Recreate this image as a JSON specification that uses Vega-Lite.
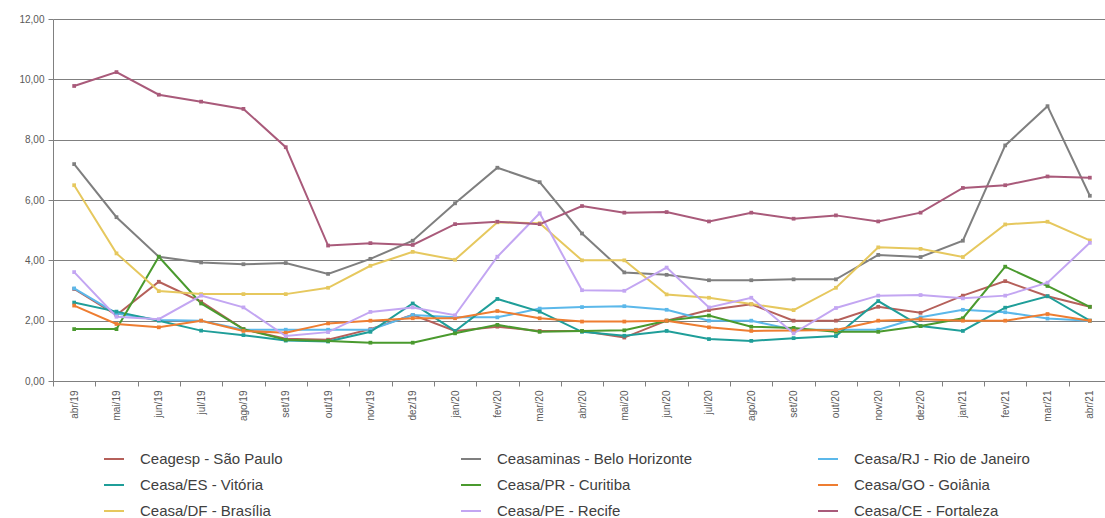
{
  "$schema": "https://vega.github.io/schema/vega-lite/v6.json",
  "width": 1058,
  "height": 362,
  "autosize": "none",
  "padding": {"left": 53, "top": 19, "right": 0, "bottom": 137},
  "background": "white",
  "data": {"values": [
    {"m":"abr/19","s":"Ceagesp - São Paulo","v":3.05},{"m":"mai/19","s":"Ceagesp - São Paulo","v":2.19},{"m":"jun/19","s":"Ceagesp - São Paulo","v":3.29},{"m":"jul/19","s":"Ceagesp - São Paulo","v":2.63},{"m":"ago/19","s":"Ceagesp - São Paulo","v":1.72},{"m":"set/19","s":"Ceagesp - São Paulo","v":1.40},{"m":"out/19","s":"Ceagesp - São Paulo","v":1.37},{"m":"nov/19","s":"Ceagesp - São Paulo","v":1.72},{"m":"dez/19","s":"Ceagesp - São Paulo","v":2.19},{"m":"jan/20","s":"Ceagesp - São Paulo","v":1.66},{"m":"fev/20","s":"Ceagesp - São Paulo","v":1.80},{"m":"mar/20","s":"Ceagesp - São Paulo","v":1.66},{"m":"abr/20","s":"Ceagesp - São Paulo","v":1.66},{"m":"mai/20","s":"Ceagesp - São Paulo","v":1.44},{"m":"jun/20","s":"Ceagesp - São Paulo","v":2.00},{"m":"jul/20","s":"Ceagesp - São Paulo","v":2.35},{"m":"ago/20","s":"Ceagesp - São Paulo","v":2.54},{"m":"set/20","s":"Ceagesp - São Paulo","v":2.00},{"m":"out/20","s":"Ceagesp - São Paulo","v":2.00},{"m":"nov/20","s":"Ceagesp - São Paulo","v":2.46},{"m":"dez/20","s":"Ceagesp - São Paulo","v":2.26},{"m":"jan/21","s":"Ceagesp - São Paulo","v":2.83},{"m":"fev/21","s":"Ceagesp - São Paulo","v":3.31},{"m":"mar/21","s":"Ceagesp - São Paulo","v":2.81},{"m":"abr/21","s":"Ceagesp - São Paulo","v":2.46},

    {"m":"abr/19","s":"Ceasaminas - Belo Horizonte","v":7.19},{"m":"mai/19","s":"Ceasaminas - Belo Horizonte","v":5.43},{"m":"jun/19","s":"Ceasaminas - Belo Horizonte","v":4.12},{"m":"jul/19","s":"Ceasaminas - Belo Horizonte","v":3.93},{"m":"ago/19","s":"Ceasaminas - Belo Horizonte","v":3.87},{"m":"set/19","s":"Ceasaminas - Belo Horizonte","v":3.91},{"m":"out/19","s":"Ceasaminas - Belo Horizonte","v":3.55},{"m":"nov/19","s":"Ceasaminas - Belo Horizonte","v":4.05},{"m":"dez/19","s":"Ceasaminas - Belo Horizonte","v":4.65},{"m":"jan/20","s":"Ceasaminas - Belo Horizonte","v":5.89},{"m":"fev/20","s":"Ceasaminas - Belo Horizonte","v":7.07},{"m":"mar/20","s":"Ceasaminas - Belo Horizonte","v":6.59},{"m":"abr/20","s":"Ceasaminas - Belo Horizonte","v":4.89},{"m":"mai/20","s":"Ceasaminas - Belo Horizonte","v":3.60},{"m":"jun/20","s":"Ceasaminas - Belo Horizonte","v":3.52},{"m":"jul/20","s":"Ceasaminas - Belo Horizonte","v":3.34},{"m":"ago/20","s":"Ceasaminas - Belo Horizonte","v":3.34},{"m":"set/20","s":"Ceasaminas - Belo Horizonte","v":3.37},{"m":"out/20","s":"Ceasaminas - Belo Horizonte","v":3.37},{"m":"nov/20","s":"Ceasaminas - Belo Horizonte","v":4.18},{"m":"dez/20","s":"Ceasaminas - Belo Horizonte","v":4.11},{"m":"jan/21","s":"Ceasaminas - Belo Horizonte","v":4.65},{"m":"fev/21","s":"Ceasaminas - Belo Horizonte","v":7.81},{"m":"mar/21","s":"Ceasaminas - Belo Horizonte","v":9.11},{"m":"abr/21","s":"Ceasaminas - Belo Horizonte","v":6.14},

    {"m":"abr/19","s":"Ceasa/RJ - Rio de Janeiro","v":3.07},{"m":"mai/19","s":"Ceasa/RJ - Rio de Janeiro","v":2.24},{"m":"jun/19","s":"Ceasa/RJ - Rio de Janeiro","v":2.02},{"m":"jul/19","s":"Ceasa/RJ - Rio de Janeiro","v":2.00},{"m":"ago/19","s":"Ceasa/RJ - Rio de Janeiro","v":1.70},{"m":"set/19","s":"Ceasa/RJ - Rio de Janeiro","v":1.70},{"m":"out/19","s":"Ceasa/RJ - Rio de Janeiro","v":1.70},{"m":"nov/19","s":"Ceasa/RJ - Rio de Janeiro","v":1.70},{"m":"dez/19","s":"Ceasa/RJ - Rio de Janeiro","v":2.19},{"m":"jan/20","s":"Ceasa/RJ - Rio de Janeiro","v":2.11},{"m":"fev/20","s":"Ceasa/RJ - Rio de Janeiro","v":2.11},{"m":"mar/20","s":"Ceasa/RJ - Rio de Janeiro","v":2.40},{"m":"abr/20","s":"Ceasa/RJ - Rio de Janeiro","v":2.45},{"m":"mai/20","s":"Ceasa/RJ - Rio de Janeiro","v":2.48},{"m":"jun/20","s":"Ceasa/RJ - Rio de Janeiro","v":2.36},{"m":"jul/20","s":"Ceasa/RJ - Rio de Janeiro","v":2.00},{"m":"ago/20","s":"Ceasa/RJ - Rio de Janeiro","v":2.00},{"m":"set/20","s":"Ceasa/RJ - Rio de Janeiro","v":1.70},{"m":"out/20","s":"Ceasa/RJ - Rio de Janeiro","v":1.70},{"m":"nov/20","s":"Ceasa/RJ - Rio de Janeiro","v":1.70},{"m":"dez/20","s":"Ceasa/RJ - Rio de Janeiro","v":2.11},{"m":"jan/21","s":"Ceasa/RJ - Rio de Janeiro","v":2.36},{"m":"fev/21","s":"Ceasa/RJ - Rio de Janeiro","v":2.28},{"m":"mar/21","s":"Ceasa/RJ - Rio de Janeiro","v":2.07},{"m":"abr/21","s":"Ceasa/RJ - Rio de Janeiro","v":2.00},

    {"m":"abr/19","s":"Ceasa/ES - Vitória","v":2.60},{"m":"mai/19","s":"Ceasa/ES - Vitória","v":2.30},{"m":"jun/19","s":"Ceasa/ES - Vitória","v":2.00},{"m":"jul/19","s":"Ceasa/ES - Vitória","v":1.67},{"m":"ago/19","s":"Ceasa/ES - Vitória","v":1.52},{"m":"set/19","s":"Ceasa/ES - Vitória","v":1.34},{"m":"out/19","s":"Ceasa/ES - Vitória","v":1.31},{"m":"nov/19","s":"Ceasa/ES - Vitória","v":1.63},{"m":"dez/19","s":"Ceasa/ES - Vitória","v":2.57},{"m":"jan/20","s":"Ceasa/ES - Vitória","v":1.66},{"m":"fev/20","s":"Ceasa/ES - Vitória","v":2.72},{"m":"mar/20","s":"Ceasa/ES - Vitória","v":2.30},{"m":"abr/20","s":"Ceasa/ES - Vitória","v":1.63},{"m":"mai/20","s":"Ceasa/ES - Vitória","v":1.50},{"m":"jun/20","s":"Ceasa/ES - Vitória","v":1.66},{"m":"jul/20","s":"Ceasa/ES - Vitória","v":1.39},{"m":"ago/20","s":"Ceasa/ES - Vitória","v":1.33},{"m":"set/20","s":"Ceasa/ES - Vitória","v":1.42},{"m":"out/20","s":"Ceasa/ES - Vitória","v":1.49},{"m":"nov/20","s":"Ceasa/ES - Vitória","v":2.65},{"m":"dez/20","s":"Ceasa/ES - Vitória","v":1.82},{"m":"jan/21","s":"Ceasa/ES - Vitória","v":1.66},{"m":"fev/21","s":"Ceasa/ES - Vitória","v":2.43},{"m":"mar/21","s":"Ceasa/ES - Vitória","v":2.81},{"m":"abr/21","s":"Ceasa/ES - Vitória","v":2.00},

    {"m":"abr/19","s":"Ceasa/PR - Curitiba","v":1.72},{"m":"mai/19","s":"Ceasa/PR - Curitiba","v":1.72},{"m":"jun/19","s":"Ceasa/PR - Curitiba","v":4.12},{"m":"jul/19","s":"Ceasa/PR - Curitiba","v":2.57},{"m":"ago/19","s":"Ceasa/PR - Curitiba","v":1.72},{"m":"set/19","s":"Ceasa/PR - Curitiba","v":1.37},{"m":"out/19","s":"Ceasa/PR - Curitiba","v":1.33},{"m":"nov/19","s":"Ceasa/PR - Curitiba","v":1.27},{"m":"dez/19","s":"Ceasa/PR - Curitiba","v":1.27},{"m":"jan/20","s":"Ceasa/PR - Curitiba","v":1.58},{"m":"fev/20","s":"Ceasa/PR - Curitiba","v":1.86},{"m":"mar/20","s":"Ceasa/PR - Curitiba","v":1.63},{"m":"abr/20","s":"Ceasa/PR - Curitiba","v":1.66},{"m":"mai/20","s":"Ceasa/PR - Curitiba","v":1.68},{"m":"jun/20","s":"Ceasa/PR - Curitiba","v":2.00},{"m":"jul/20","s":"Ceasa/PR - Curitiba","v":2.17},{"m":"ago/20","s":"Ceasa/PR - Curitiba","v":1.80},{"m":"set/20","s":"Ceasa/PR - Curitiba","v":1.76},{"m":"out/20","s":"Ceasa/PR - Curitiba","v":1.63},{"m":"nov/20","s":"Ceasa/PR - Curitiba","v":1.63},{"m":"dez/20","s":"Ceasa/PR - Curitiba","v":1.82},{"m":"jan/21","s":"Ceasa/PR - Curitiba","v":2.08},{"m":"fev/21","s":"Ceasa/PR - Curitiba","v":3.79},{"m":"mar/21","s":"Ceasa/PR - Curitiba","v":3.15},{"m":"abr/21","s":"Ceasa/PR - Curitiba","v":2.46},

    {"m":"abr/19","s":"Ceasa/GO - Goiânia","v":2.50},{"m":"mai/19","s":"Ceasa/GO - Goiânia","v":1.89},{"m":"jun/19","s":"Ceasa/GO - Goiânia","v":1.78},{"m":"jul/19","s":"Ceasa/GO - Goiânia","v":2.00},{"m":"ago/19","s":"Ceasa/GO - Goiânia","v":1.66},{"m":"set/19","s":"Ceasa/GO - Goiânia","v":1.60},{"m":"out/19","s":"Ceasa/GO - Goiânia","v":1.91},{"m":"nov/19","s":"Ceasa/GO - Goiânia","v":2.00},{"m":"dez/19","s":"Ceasa/GO - Goiânia","v":2.08},{"m":"jan/20","s":"Ceasa/GO - Goiânia","v":2.08},{"m":"fev/20","s":"Ceasa/GO - Goiânia","v":2.32},{"m":"mar/20","s":"Ceasa/GO - Goiânia","v":2.08},{"m":"abr/20","s":"Ceasa/GO - Goiânia","v":1.97},{"m":"mai/20","s":"Ceasa/GO - Goiânia","v":1.97},{"m":"jun/20","s":"Ceasa/GO - Goiânia","v":2.00},{"m":"jul/20","s":"Ceasa/GO - Goiânia","v":1.78},{"m":"ago/20","s":"Ceasa/GO - Goiânia","v":1.66},{"m":"set/20","s":"Ceasa/GO - Goiânia","v":1.67},{"m":"out/20","s":"Ceasa/GO - Goiânia","v":1.69},{"m":"nov/20","s":"Ceasa/GO - Goiânia","v":2.00},{"m":"dez/20","s":"Ceasa/GO - Goiânia","v":2.05},{"m":"jan/21","s":"Ceasa/GO - Goiânia","v":2.00},{"m":"fev/21","s":"Ceasa/GO - Goiânia","v":2.00},{"m":"mar/21","s":"Ceasa/GO - Goiânia","v":2.22},{"m":"abr/21","s":"Ceasa/GO - Goiânia","v":2.00},

    {"m":"abr/19","s":"Ceasa/DF - Brasília","v":6.49},{"m":"mai/19","s":"Ceasa/DF - Brasília","v":4.23},{"m":"jun/19","s":"Ceasa/DF - Brasília","v":2.98},{"m":"jul/19","s":"Ceasa/DF - Brasília","v":2.88},{"m":"ago/19","s":"Ceasa/DF - Brasília","v":2.88},{"m":"set/19","s":"Ceasa/DF - Brasília","v":2.88},{"m":"out/19","s":"Ceasa/DF - Brasília","v":3.09},{"m":"nov/19","s":"Ceasa/DF - Brasília","v":3.82},{"m":"dez/19","s":"Ceasa/DF - Brasília","v":4.28},{"m":"jan/20","s":"Ceasa/DF - Brasília","v":4.02},{"m":"fev/20","s":"Ceasa/DF - Brasília","v":5.26},{"m":"mar/20","s":"Ceasa/DF - Brasília","v":5.23},{"m":"abr/20","s":"Ceasa/DF - Brasília","v":4.00},{"m":"mai/20","s":"Ceasa/DF - Brasília","v":4.00},{"m":"jun/20","s":"Ceasa/DF - Brasília","v":2.87},{"m":"jul/20","s":"Ceasa/DF - Brasília","v":2.76},{"m":"ago/20","s":"Ceasa/DF - Brasília","v":2.55},{"m":"set/20","s":"Ceasa/DF - Brasília","v":2.35},{"m":"out/20","s":"Ceasa/DF - Brasília","v":3.09},{"m":"nov/20","s":"Ceasa/DF - Brasília","v":4.43},{"m":"dez/20","s":"Ceasa/DF - Brasília","v":4.38},{"m":"jan/21","s":"Ceasa/DF - Brasília","v":4.11},{"m":"fev/21","s":"Ceasa/DF - Brasília","v":5.19},{"m":"mar/21","s":"Ceasa/DF - Brasília","v":5.28},{"m":"abr/21","s":"Ceasa/DF - Brasília","v":4.66},

    {"m":"abr/19","s":"Ceasa/PE - Recife","v":3.61},{"m":"mai/19","s":"Ceasa/PE - Recife","v":2.13},{"m":"jun/19","s":"Ceasa/PE - Recife","v":2.05},{"m":"jul/19","s":"Ceasa/PE - Recife","v":2.83},{"m":"ago/19","s":"Ceasa/PE - Recife","v":2.44},{"m":"set/19","s":"Ceasa/PE - Recife","v":1.49},{"m":"out/19","s":"Ceasa/PE - Recife","v":1.62},{"m":"nov/19","s":"Ceasa/PE - Recife","v":2.29},{"m":"dez/19","s":"Ceasa/PE - Recife","v":2.44},{"m":"jan/20","s":"Ceasa/PE - Recife","v":2.18},{"m":"fev/20","s":"Ceasa/PE - Recife","v":4.12},{"m":"mar/20","s":"Ceasa/PE - Recife","v":5.56},{"m":"abr/20","s":"Ceasa/PE - Recife","v":3.01},{"m":"mai/20","s":"Ceasa/PE - Recife","v":2.99},{"m":"jun/20","s":"Ceasa/PE - Recife","v":3.76},{"m":"jul/20","s":"Ceasa/PE - Recife","v":2.44},{"m":"ago/20","s":"Ceasa/PE - Recife","v":2.76},{"m":"set/20","s":"Ceasa/PE - Recife","v":1.58},{"m":"out/20","s":"Ceasa/PE - Recife","v":2.42},{"m":"nov/20","s":"Ceasa/PE - Recife","v":2.83},{"m":"dez/20","s":"Ceasa/PE - Recife","v":2.85},{"m":"jan/21","s":"Ceasa/PE - Recife","v":2.74},{"m":"fev/21","s":"Ceasa/PE - Recife","v":2.83},{"m":"mar/21","s":"Ceasa/PE - Recife","v":3.26},{"m":"abr/21","s":"Ceasa/PE - Recife","v":4.58},

    {"m":"abr/19","s":"Ceasa/CE - Fortaleza","v":9.78},{"m":"mai/19","s":"Ceasa/CE - Fortaleza","v":10.24},{"m":"jun/19","s":"Ceasa/CE - Fortaleza","v":9.49},{"m":"jul/19","s":"Ceasa/CE - Fortaleza","v":9.26},{"m":"ago/19","s":"Ceasa/CE - Fortaleza","v":9.02},{"m":"set/19","s":"Ceasa/CE - Fortaleza","v":7.75},{"m":"out/19","s":"Ceasa/CE - Fortaleza","v":4.49},{"m":"nov/19","s":"Ceasa/CE - Fortaleza","v":4.57},{"m":"dez/19","s":"Ceasa/CE - Fortaleza","v":4.51},{"m":"jan/20","s":"Ceasa/CE - Fortaleza","v":5.20},{"m":"fev/20","s":"Ceasa/CE - Fortaleza","v":5.28},{"m":"mar/20","s":"Ceasa/CE - Fortaleza","v":5.20},{"m":"abr/20","s":"Ceasa/CE - Fortaleza","v":5.80},{"m":"mai/20","s":"Ceasa/CE - Fortaleza","v":5.58},{"m":"jun/20","s":"Ceasa/CE - Fortaleza","v":5.60},{"m":"jul/20","s":"Ceasa/CE - Fortaleza","v":5.29},{"m":"ago/20","s":"Ceasa/CE - Fortaleza","v":5.58},{"m":"set/20","s":"Ceasa/CE - Fortaleza","v":5.38},{"m":"out/20","s":"Ceasa/CE - Fortaleza","v":5.49},{"m":"nov/20","s":"Ceasa/CE - Fortaleza","v":5.29},{"m":"dez/20","s":"Ceasa/CE - Fortaleza","v":5.58},{"m":"jan/21","s":"Ceasa/CE - Fortaleza","v":6.40},{"m":"fev/21","s":"Ceasa/CE - Fortaleza","v":6.49},{"m":"mar/21","s":"Ceasa/CE - Fortaleza","v":6.78},{"m":"abr/21","s":"Ceasa/CE - Fortaleza","v":6.74}
  ]},
  "config": {
    "view": {"stroke": null},
    "font": "Liberation Sans"
  },
  "mark": {"type": "line", "strokeWidth": 2, "point": {"shape": "square", "size": 14, "filled": true}},
  "encoding": {
    "x": {
      "field": "m", "type": "ordinal", "sort": null,
      "scale": {"type": "band", "paddingInner": 0, "paddingOuter": 0},
      "axis": {"title": null, "labelAngle": -90, "labelFontSize": 10, "labelColor": "#595959", "labelPadding": 4,
               "domainColor": "#808080", "tickColor": "#808080", "tickSize": 5, "tickBand": "extent", "grid": false}
    },
    "y": {
      "field": "v", "type": "quantitative",
      "scale": {"domain": [0, 12], "nice": false},
      "axis": {"title": null, "values": [0,2,4,6,8,10,12], "labelExpr": "replace(format(datum.value, '.2f'), '.', ',')",
               "labelFontSize": 10, "labelColor": "#595959", "labelPadding": 4, "domainColor": "#808080",
               "tickColor": "#808080", "tickSize": 5, "gridColor": "#808080", "gridWidth": 1, "gridOpacity": 1}
    },
    "color": {
      "field": "s", "type": "nominal",
      "scale": {
        "domain": ["Ceagesp - São Paulo","Ceasaminas - Belo Horizonte","Ceasa/RJ - Rio de Janeiro","Ceasa/ES - Vitória","Ceasa/PR - Curitiba","Ceasa/GO - Goiânia","Ceasa/DF - Brasília","Ceasa/PE - Recife","Ceasa/CE - Fortaleza"],
        "range": ["#b5605a","#7f7f7f","#5bb8ea","#1f9e99","#4a9a2e","#ee7d31","#e6c85e","#c3a6f2","#a95a7a"]
      },
      "legend": {
        "title": null, "orient": "none", "legendX": 50, "legendY": 429, "columns": 3, "direction": "horizontal",
        "gridAlign": "all", "columnPadding": 121, "rowPadding": 7, "labelOffset": 15,
        "symbolType": "stroke", "symbolSize": 400, "symbolStrokeWidth": 2,
        "labelFontSize": 15, "labelColor": "#404040", "labelFont": "Liberation Sans", "labelLimit": 300
      }
    }
  }
}
